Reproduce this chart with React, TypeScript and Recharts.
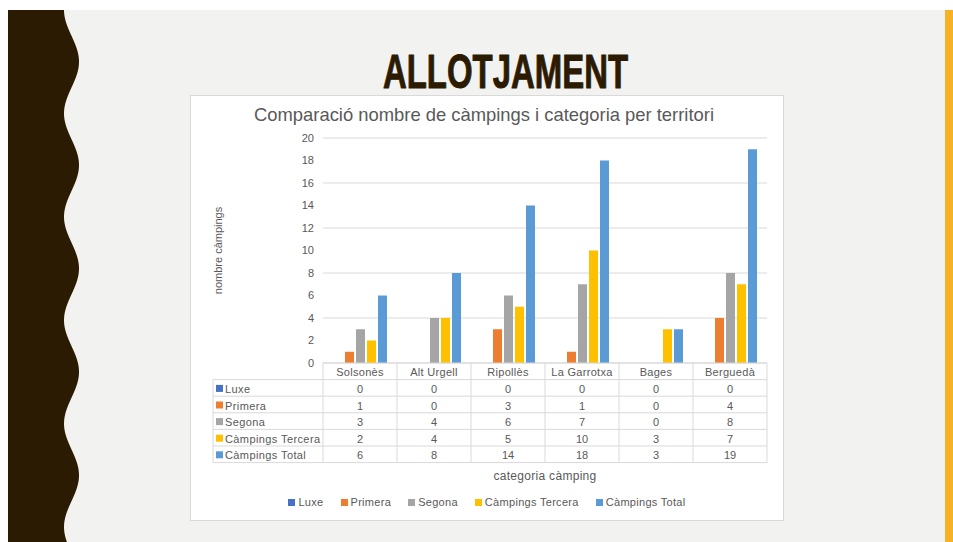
import React from 'react';
import { BarChart, Bar, XAxis, YAxis, CartesianGrid, Legend } from 'recharts';

const categories = ['Solsonès', 'Alt Urgell', 'Ripollès', 'La Garrotxa', 'Bages', 'Berguedà'];
const luxe = [0, 0, 0, 0, 0, 0];
const primera = [1, 0, 3, 1, 0, 4];
const segona = [3, 4, 6, 7, 0, 8];
const tercera = [2, 4, 5, 10, 3, 7];
const total = [6, 8, 14, 18, 3, 19];
const yTicks = [0, 2, 4, 6, 8, 10, 12, 14, 16, 18, 20];
const seriesKeys = ['luxe', 'primera', 'segona', 'tercera', 'total'];
const seriesNames = ['Luxe', 'Primera', 'Segona', 'Càmpings Tercera', 'Càmpings Total'];
const seriesColors = ['#4472c4', '#ed7d31', '#a5a5a5', '#ffc000', '#5b9bd5'];
const seriesValues = [luxe, primera, segona, tercera, total];

const data = categories.map((name, i) => ({
  name,
  luxe: luxe[i],
  primera: primera[i],
  segona: segona[i],
  tercera: tercera[i],
  total: total[i],
}));

const W = 592;
const H = 424;
const PLOT_LEFT = 132;
const PLOT_RIGHT = 576;
const COL_W = (PLOT_RIGHT - PLOT_LEFT) / categories.length;
const ROW_H = 16.6;
const LABEL_COL_W = 110;
const GRID = '#d9d9d9';
const TXT = '#595959';
const FONT = '"Liberation Sans", Arial, sans-serif';

function TableTick(props: any) {
  const { x, y, payload } = props;
  const i: number = payload.index;
  const half = COL_W / 2;
  const els: any[] = [];
  const tableBottom = y + ROW_H * 6;
  els.push(<line key="vr" x1={x + half} y1={y} x2={x + half} y2={tableBottom} stroke={GRID} strokeWidth={1} />);
  if (i === 0) {
    els.push(<line key="vl" x1={x - half} y1={y} x2={x - half} y2={tableBottom} stroke={GRID} strokeWidth={1} />);
  }
  for (let r = 1; r <= 6; r++) {
    els.push(
      <line key={'h' + r} x1={x - half} y1={y + ROW_H * r} x2={x + half} y2={y + ROW_H * r} stroke={GRID} strokeWidth={1} />
    );
  }
  els.push(
    <text key="cat" x={x} y={y + ROW_H / 2 + 1} textAnchor="middle" dominantBaseline="central" fill={TXT} fontSize={11} fontFamily={FONT} letterSpacing={0.3}>
      {payload.value}
    </text>
  );
  seriesValues.forEach((vals, s) => {
    els.push(
      <text key={'v' + s} x={x} y={y + ROW_H * (s + 1.5) + 1} textAnchor="middle" dominantBaseline="central" fill={TXT} fontSize={11} fontFamily={FONT}>
        {vals[i]}
      </text>
    );
  });
  if (i === 0) {
    const left = x - half - LABEL_COL_W;
    els.push(<line key="ll" x1={left} y1={y + ROW_H} x2={left} y2={tableBottom} stroke={GRID} strokeWidth={1} />);
    for (let r = 1; r <= 6; r++) {
      els.push(
        <line key={'lh' + r} x1={left} y1={y + ROW_H * r} x2={x - half} y2={y + ROW_H * r} stroke={GRID} strokeWidth={1} />
      );
    }
    seriesNames.forEach((n, s) => {
      const cy = y + ROW_H * (s + 1.5);
      els.push(<rect key={'k' + s} x={left + 3} y={cy - 3} width={7} height={7} fill={seriesColors[s]} />);
      els.push(
        <text key={'n' + s} x={left + 12} y={cy + 1} dominantBaseline="central" fill={TXT} fontSize={11} fontFamily={FONT} letterSpacing={0.4}>
          {n}
        </text>
      );
    });
  }
  return <g>{els}</g>;
}

function YLabel(props: any) {
  const vb = props.viewBox || { x: 92, y: 42, width: 40, height: 225 };
  const cx = vb.x - 65;
  const cy = vb.y + vb.height / 2;
  return (
    <text x={cx} y={cy} transform={`rotate(-90 ${cx} ${cy})`} textAnchor="middle" dominantBaseline="central" fill={TXT} fontSize={11} fontFamily={FONT}>
      nombre càmpings
    </text>
  );
}

function LegendContent() {
  return (
    <div style={{ display: 'flex', justifyContent: 'center', alignItems: 'center', height: 20, fontFamily: FONT, fontSize: 11, color: TXT, letterSpacing: 0.3 }}>
      {seriesNames.map((n, s) => (
        <div key={n} style={{ display: 'flex', alignItems: 'center', marginRight: s < seriesNames.length - 1 ? 17 : 0 }}>
          <span style={{ display: 'inline-block', width: 7, height: 7, background: seriesColors[s], marginRight: 3 }} />
          <span>{n}</span>
        </div>
      ))}
    </div>
  );
}

function wavePoints(): string {
  const pts: string[] = ['8,10'];
  for (let y = 10; y <= 542; y += 2) {
    const x = 71.5 - 7.5 * Math.cos((2 * Math.PI * (y - 10)) / 103.4);
    pts.push(`${x.toFixed(2)},${y}`);
  }
  pts.push('8,542');
  return pts.join(' ');
}

export default function App() {
  return (
    <div style={{ position: 'fixed', left: 0, top: 0, width: 953, height: 542, background: '#ffffff', overflow: 'hidden' }}>
      <div style={{ position: 'absolute', left: 8, top: 10, width: 945, height: 532, background: '#f2f2f1' }} />
      <svg style={{ position: 'absolute', left: 0, top: 0 }} width={953} height={542}>
        <polygon points={wavePoints()} fill="#2b1b02" />
        <rect x={945} y={10} width={8} height={532} fill="#f7b125" />
        <text
          x={505.5}
          y={88}
          textAnchor="middle"
          fontFamily='"Liberation Sans Narrow", "Liberation Sans", sans-serif'
          fontWeight={700}
          fontSize={49}
          fill="#2b1b02"
          stroke="#2b1b02"
          strokeWidth={1}
          strokeLinejoin="round"
          textLength={245}
          lengthAdjust="spacingAndGlyphs"
        >
          ALLOTJAMENT
        </text>
      </svg>
      <div
        style={{
          position: 'absolute',
          left: 190,
          top: 95,
          width: W,
          height: H,
          background: '#ffffff',
          border: `1px solid ${GRID}`,
        }}
      >
        <div
          style={{
            position: 'absolute',
            left: 0,
            top: 8,
            width: W - 6,
            textAlign: 'center',
            fontFamily: FONT,
            fontSize: 18.4,
            color: TXT,
            lineHeight: '22px',
          }}
        >
          Comparació nombre de càmpings i categoria per territori
        </div>
        <BarChart
          width={W}
          height={H}
          data={data}
          margin={{ top: 42, right: W - PLOT_RIGHT, left: PLOT_LEFT - 40, bottom: 8 }}
          barSize={9}
          barGap={2}
        >
          <CartesianGrid vertical={false} stroke={GRID} />
          <XAxis
            dataKey="name"
            axisLine={{ stroke: GRID }}
            tickLine={false}
            tickSize={0}
            tickMargin={0}
            height={129}
            interval={0}
            tick={<TableTick />}
            label={{ value: 'categoria càmping', position: 'insideBottom', offset: 12, fill: TXT, fontSize: 12, fontFamily: FONT, letterSpacing: 0.3 }}
          />
          <YAxis
            width={40}
            domain={[0, 20]}
            ticks={yTicks}
            axisLine={false}
            tickLine={false}
            tickMargin={3}
            tick={{ fill: TXT, fontSize: 11, fontFamily: FONT }}
            label={<YLabel />}
          />
          <Legend verticalAlign="bottom" height={20} wrapperStyle={{ left: 0, width: W }} content={<LegendContent />} />
          {seriesKeys.map((k, s) => (
            <Bar key={k} dataKey={k} name={seriesNames[s]} fill={seriesColors[s]} isAnimationActive={false} />
          ))}
        </BarChart>
      </div>
    </div>
  );
}
